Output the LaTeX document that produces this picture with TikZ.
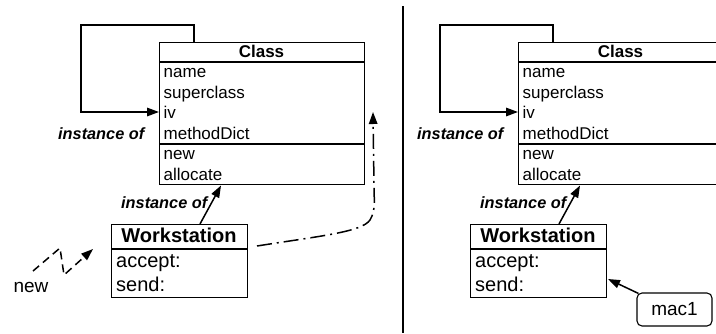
\documentclass[tikz,border=0pt]{standalone}
\usepackage{fontspec}
\setmainfont{Liberation Sans}
\usetikzlibrary{arrows.meta}
\begin{document}
\begin{tikzpicture}[x=1pt,y=-1pt,
  box/.style={draw, line width=1.1pt, inner sep=0pt, anchor=north west},
  rule/.style={line width=1.3pt},
  body/.style={font=\fontsize{17}{20}\selectfont, inner sep=0pt, anchor=base west},
  wbody/.style={font=\fontsize{20}{24}\selectfont, inner sep=0pt, anchor=base west},
  title/.style={font=\fontsize{17}{20}\selectfont\bfseries, inner sep=0pt, anchor=base},
  wtitle/.style={font=\fontsize{20}{24}\selectfont\bfseries, inner sep=0pt, anchor=base},
  lbl/.style={font=\fontsize{16.3}{19}\selectfont\bfseries\itshape, inner sep=0pt, anchor=base west},
  conn/.style={line width=1.5pt, -{Triangle[length=12pt,width=8.5pt]}},
]
\useasboundingbox (0,0) rectangle (716,333);

\foreach \s/\dx in {L/0,R/359}{
\begin{scope}[xshift=\dx pt]
  % Class box
  \node[box, minimum width=205pt, minimum height=142pt] (cls\s) at (159,42) {};
  \draw[rule] (159,62) -- (364,62);
  \draw[rule] (159,144) -- (364,144);
  \node[title] (clsT\s) at (261.5,57.3) {Class};
  \node[body] (name\s) at (163.5,77.5) {name};
  \node[body] (sup\s) at (163.5,98) {superclass};
  \node[body] (iv\s) at (163.5,118.5) {iv};
  \node[body] (md\s) at (163.5,139) {methodDict};
  \node[body] (new\s) at (163.5,159.3) {new};
  \node[body] (alloc\s) at (163.5,180) {allocate};
  \coordinate (loopS\s) at (194,42);
  \coordinate (loopA\s) at (194,25);
  \coordinate (loopB\s) at (81,112);
  \coordinate (loopE\s) at (159,112);
  \draw[conn] (loopS\s) -- (loopA\s) -| (loopB\s) -- (loopE\s);
  \node[lbl] (io1\s) at (58,139.5) {instance of};
  % Workstation box
  \node[box, minimum width=136pt, minimum height=73pt] (ws\s) at (111,224) {};
  \draw[rule] (111,249) -- (247,249);
  \node[wtitle] (wsT\s) at (179,242.7) {Workstation};
  \node[wbody] (acc\s) at (116,267.7) {accept:};
  \node[wbody] (send\s) at (116,291.7) {send:};
  \coordinate (wsTop\s) at (200,224);
  \coordinate (clsBot\s) at (221,185.5);
  \draw[conn] (wsTop\s) -- (clsBot\s);
  \node[lbl] (io2\s) at (121,208.3) {instance of};
\end{scope}
}

% divider
\coordinate (divT) at (403,6);
\coordinate (divB) at (403,333);
\draw[line width=1.6pt] (divT) -- (divB);

% left: dash-dot to Class
\coordinate (ddS) at (257,246);
\coordinate (ddE) at (373,112);
\draw[conn, dash pattern=on 15pt off 5pt on 2pt off 5pt]
  (ddS) .. controls (320,236) and (362,232) .. (370,220)
  .. controls (376,210) and (374,200) .. (374,185) -- (ddE);

% left: "new" zigzag
\node[font=\fontsize{19}{22}\selectfont, inner sep=0pt] (newtxt) at (31,287) {new};
\coordinate (z0) at (33,271);
\coordinate (z1) at (60,248);
\coordinate (z2) at (64,275);
\coordinate (z3) at (93,249);
\draw[conn, dash pattern=on 8pt off 5pt] (z0) -- (z1) -- (z2) -- (z3);

% right: mac1
\node[draw, line width=1.1pt, rounded corners=5pt, minimum width=75pt, minimum height=33pt,
      font=\fontsize{19}{22}\selectfont, inner sep=0pt] (mac) at (674.5,309.5) {mac1};
\coordinate (macT) at (608,279);
\draw[conn] ([xshift=2pt,yshift=-1pt]mac.north west) -- (macT);
\end{tikzpicture}
\end{document}
